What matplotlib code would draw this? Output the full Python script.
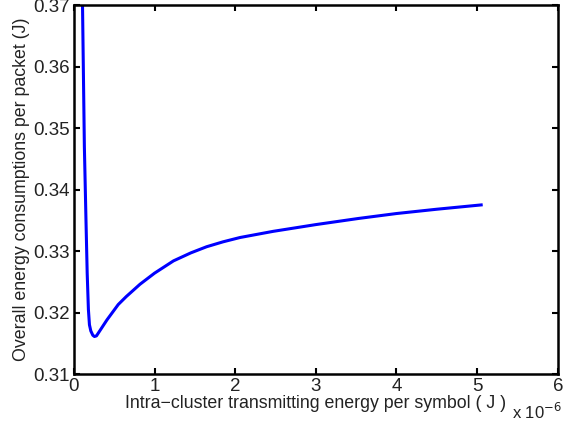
import matplotlib
matplotlib.use('Agg')
import matplotlib.pyplot as plt

# energy per symbol (x 1e-6 J) and overall energy per packet (J)
x_energy = [0.105, 0.13, 0.15, 0.165, 0.18, 0.193, 0.21, 0.235, 0.255, 0.28,
            0.32, 0.41, 0.55, 0.65, 0.82, 1.00, 1.235, 1.45, 1.646, 1.85,
            2.06, 2.47, 3.00, 3.53, 4.00, 4.50, 5.05]
y_total = [0.372, 0.347, 0.335, 0.3264, 0.3205, 0.3180, 0.3170, 0.3163, 0.3161,
           0.3162, 0.3170, 0.3188, 0.3213, 0.3226, 0.3246, 0.3264, 0.3284,
           0.3297, 0.3307, 0.3315, 0.3322, 0.3332, 0.3343, 0.3353, 0.3361,
           0.3368, 0.3375]

plt.rcParams['font.family'] = ['Liberation Sans', 'DejaVu Sans']

fig = plt.figure(figsize=(5.64, 4.25), dpi=100)
ax = fig.add_axes([0.131, 0.12, 0.858, 0.868])
ax.plot(x_energy, y_total, color='#0000ff', linewidth=2.2)
ax.set_xlim(0, 6)
ax.set_ylim(0.31, 0.37)
ax.set_xticks([0, 1, 2, 3, 4, 5, 6])
ax.set_yticks([0.31, 0.32, 0.33, 0.34, 0.35, 0.36, 0.37])
ax.set_yticklabels(['0.31', '0.32', '0.33', '0.34', '0.35', '0.36', '0.37'])
ax.tick_params(direction='in', top=True, right=True, length=4, width=1.5,
               labelsize=13.5, colors='black', labelcolor='#222222', pad=3)
for s in ax.spines.values():
    s.set_linewidth(1.8)
ax.set_xlabel('Intra\u2212cluster transmitting energy per symbol ( J )',
              fontsize=12.8, color='#222222', labelpad=0)
ax.set_ylabel('Overall energy consumptions per packet (J)', fontsize=12.8,
              color='#222222', labelpad=2)
ax.text(0.905, -0.075, 'x 10$^{-6}$', transform=ax.transAxes, fontsize=12,
        color='#222222', va='top')
fig.savefig('out.png', dpi=100)
